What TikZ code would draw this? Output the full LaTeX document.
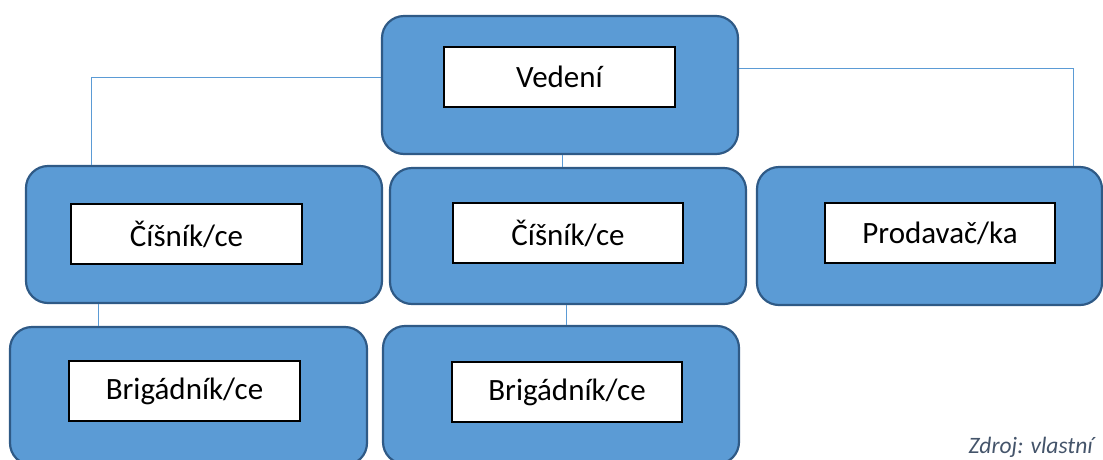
\documentclass[tikz,border=0pt]{standalone}
\usepackage{fontspec}
\setmainfont{Carlito}
\definecolor{boxfill}{HTML}{5B9BD5}
\definecolor{boxline}{HTML}{2F5A86}
\definecolor{conn}{HTML}{5B9BD5}
\definecolor{srcgray}{HTML}{44546A}
\begin{document}
\begin{tikzpicture}[x=1pt,y=-1pt,
  outer/.style={draw=boxline, fill=boxfill, line width=2.2pt, rounded corners=22pt, inner sep=0pt},
  inner/.style={draw=black, fill=white, line width=1.2pt, inner sep=0pt, minimum height=60pt, font=\fontsize{31}{36}\selectfont},
  link/.style={draw=conn, line width=1pt}]
\useasboundingbox (0,0) rectangle (1103,459);
\clip (0,0) rectangle (1103,459);
% outer boxes
\node[outer, minimum width=356pt, minimum height=138pt] (top) at (560,85) {};
\node[outer, minimum width=356pt, minimum height=137pt] (l1) at (204,234.5) {};
\node[outer, minimum width=356pt, minimum height=136pt] (m1) at (568,236) {};
\node[outer, minimum width=345pt, minimum height=138pt] (r1) at (929.5,236) {};
\node[outer, minimum width=357pt, minimum height=138pt] (l2) at (188.5,396) {};
\node[outer, minimum width=356pt, minimum height=138pt] (m2) at (561,395) {};
% inner boxes
\node[inner, minimum width=231pt] (topin) at (559.5,77) {Vedení};
\node[inner, minimum width=231pt] (l1in) at (186.5,234) {Číšník/ce};
\node[inner, minimum width=230pt] (m1in) at (568,233) {Číšník/ce};
\node[inner, minimum width=230pt] (r1in) at (940,233) {Prodavač/ka};
\node[inner, minimum width=231pt] (l2in) at (184.5,391) {Brigádník/ce};
\node[inner, minimum width=230pt] (m2in) at (567,392) {Brigádník/ce};
% connectors
\draw[link] ([yshift=8pt]top.west) -| ([xshift=-113pt]l1.north);
\draw[link] ([yshift=17pt]top.east) -| ([xshift=143.5pt]r1.north);
\draw[link] ([xshift=2pt]top.south) -- ([xshift=2pt]top.south |- m1.north);
\draw[link] ([xshift=-106pt]l1.south) -- ([xshift=-106pt]l1.south |- l2.north);
\draw[link] ([xshift=-2pt]m1.south) -- ([xshift=-2pt]m1.south |- m2.north);
% source
\node[anchor=base east, inner sep=0pt, text=srcgray, font=\fontsize{23.5}{28}\selectfont\itshape] (src) at (1093,453) {Zdroj: vlastní};
\end{tikzpicture}
\end{document}
